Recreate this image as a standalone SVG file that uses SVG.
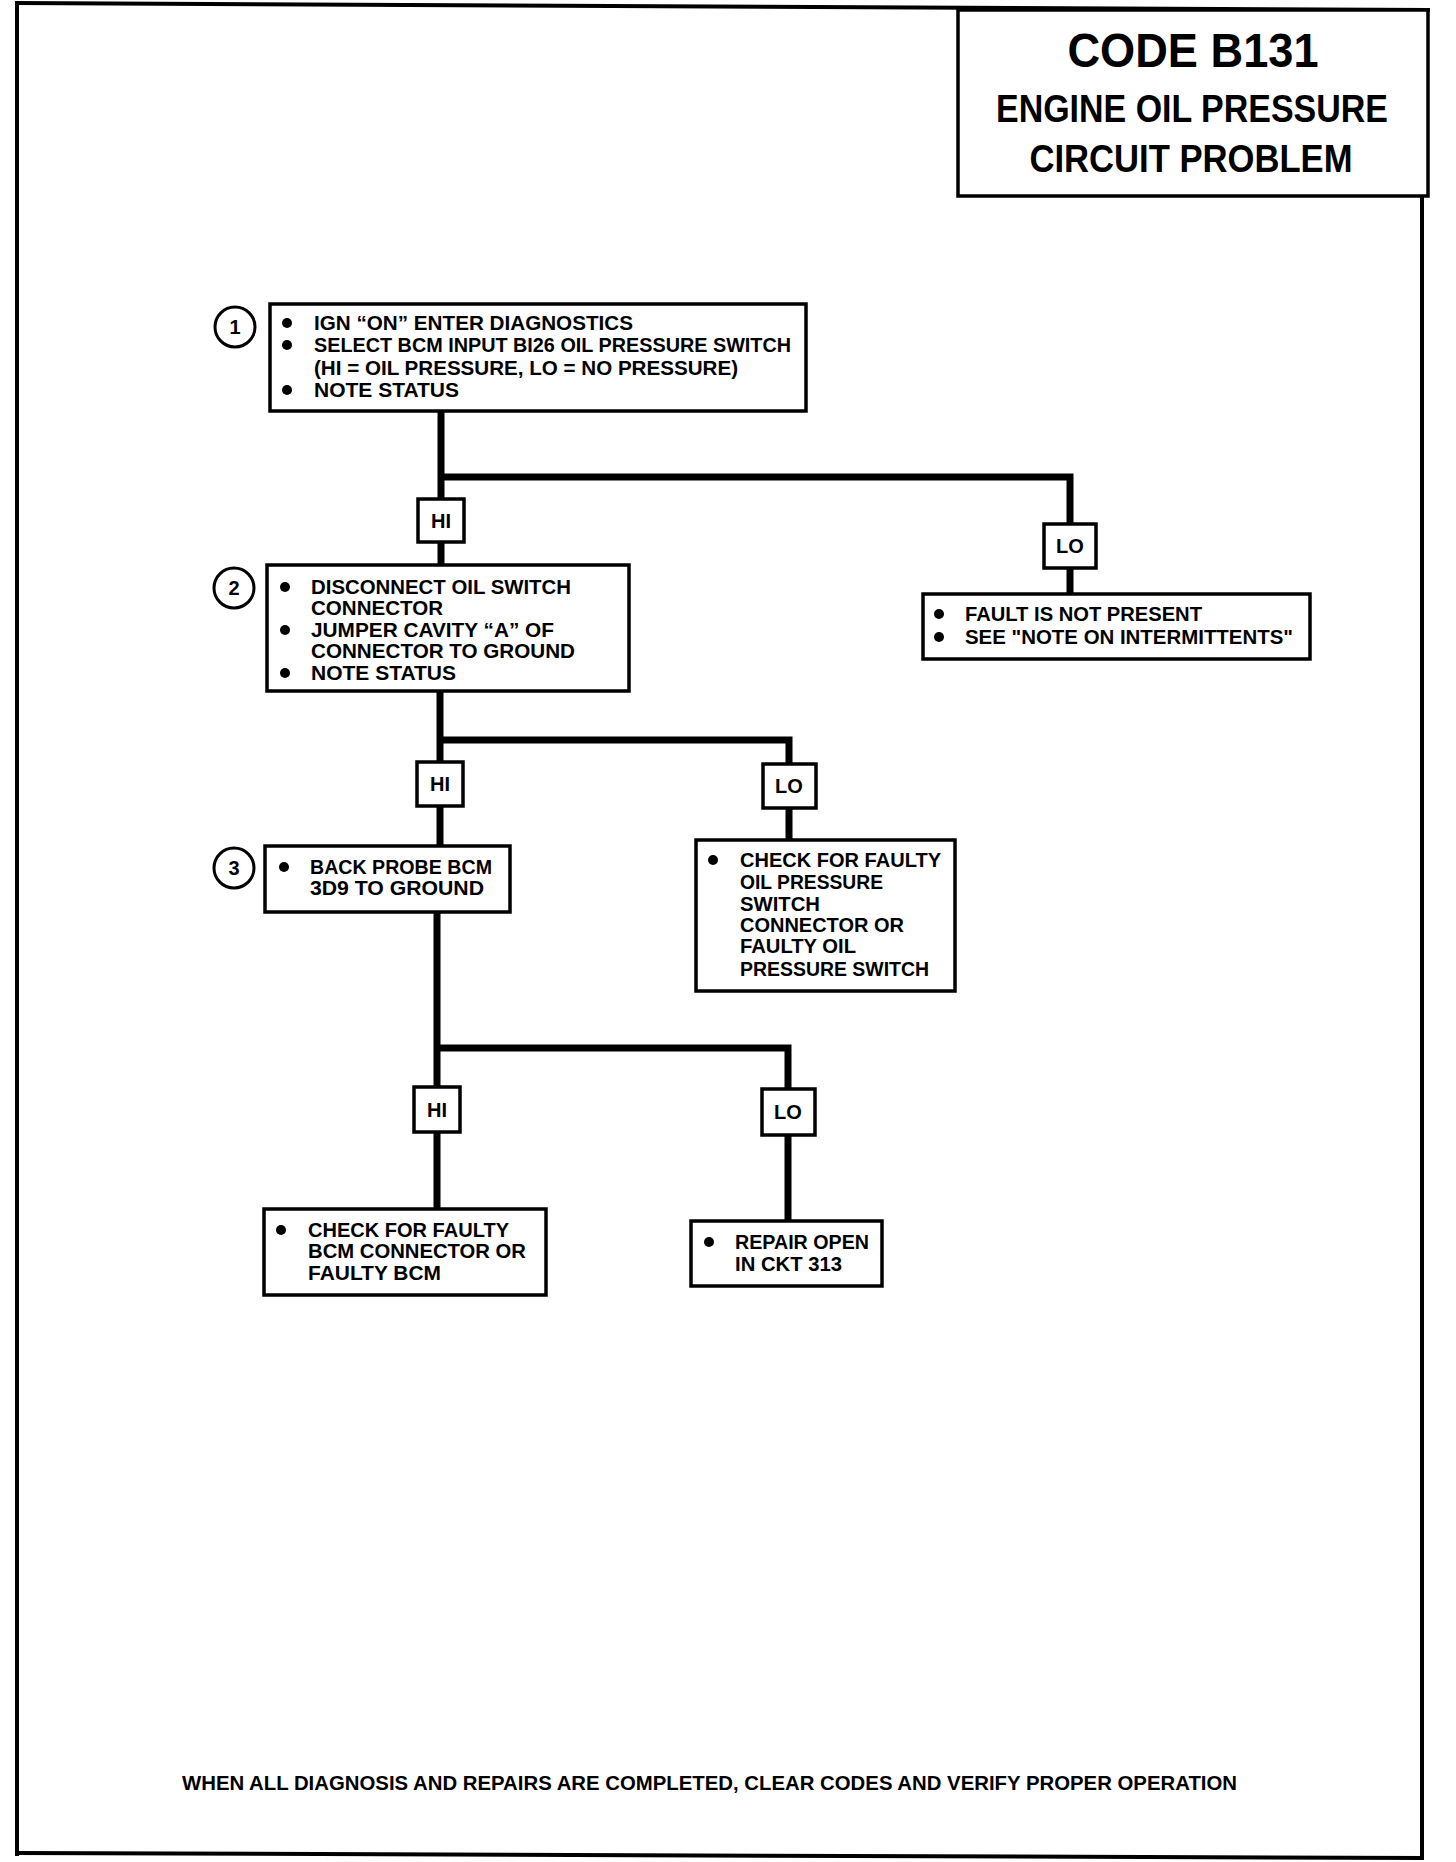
<svg xmlns="http://www.w3.org/2000/svg" width="1456" height="1862" viewBox="0 0 1456 1862">
<style>
.box{fill:#fff;stroke:#000;stroke-width:3.5}
.tag{fill:#fff;stroke:#000;stroke-width:3.5}
.t{font-family:"Liberation Sans",Arial,sans-serif;font-weight:bold;font-size:21px;fill:#000}
.tl{font-family:"Liberation Sans",Arial,sans-serif;font-weight:bold;font-size:20px;fill:#000;text-anchor:middle}
.num{font-family:"Liberation Sans",Arial,sans-serif;font-weight:bold;font-size:20px;fill:#000;text-anchor:middle}
.title{font-family:"Liberation Sans",Arial,sans-serif;font-weight:bold;fill:#000;text-anchor:middle}
.conn{fill:none;stroke:#000;stroke-width:7}
.frame{fill:none;stroke:#000;stroke-width:4}
.circ{fill:#fff;stroke:#000;stroke-width:3}
</style>
<rect width="1456" height="1862" fill="#fff"/>
<g id="frame">
<line class="frame" x1="17" y1="3" x2="17" y2="1856"/>
<line class="frame" x1="15" y1="3" x2="1430" y2="10"/>
<line class="frame" x1="1422" y1="196" x2="1422" y2="1858"/>
<line class="frame" x1="15" y1="1853" x2="1424" y2="1858"/>
</g>
<g id="title">
<rect x="958" y="10" width="470" height="186" fill="#fff" stroke="#000" stroke-width="3.5"/>
<text class="title" x="1193" y="67" font-size="48" textLength="251" lengthAdjust="spacingAndGlyphs">CODE B131</text>
<text class="title" x="1192" y="122" font-size="39" textLength="392" lengthAdjust="spacingAndGlyphs">ENGINE OIL PRESSURE</text>
<text class="title" x="1191" y="172" font-size="39" textLength="323" lengthAdjust="spacingAndGlyphs">CIRCUIT PROBLEM</text>
</g>
<g id="connectors">
<polyline class="conn" points="441,411 441,565"/>
<polyline class="conn" points="441,477 1070,477 1070,594"/>
<polyline class="conn" points="440,691 440,846"/>
<polyline class="conn" points="440,740 789,740 789,840"/>
<polyline class="conn" points="437,912 437,1209"/>
<polyline class="conn" points="437,1048 788,1048 788,1221"/>
</g>
<g id="step1">
<circle class="circ" cx="235" cy="327" r="20"/>
<text class="num" x="235" y="334">1</text>
<rect class="box" x="270" y="304" width="536" height="107"/>
<circle cx="287" cy="323" r="5"/>
<circle cx="287" cy="345" r="5"/>
<circle cx="287" cy="390" r="5"/>
<text class="t" x="314" y="330" textLength="319" lengthAdjust="spacingAndGlyphs">IGN “ON” ENTER DIAGNOSTICS</text>
<text class="t" x="314" y="352" textLength="477" lengthAdjust="spacingAndGlyphs">SELECT BCM INPUT BI26 OIL PRESSURE SWITCH</text>
<text class="t" x="314" y="375" textLength="424" lengthAdjust="spacingAndGlyphs">(HI = OIL PRESSURE, LO = NO PRESSURE)</text>
<text class="t" x="314" y="397" textLength="145" lengthAdjust="spacingAndGlyphs">NOTE STATUS</text>
</g>
<g id="hi1">
<rect class="tag" x="418" y="499" width="46" height="43"/>
<text class="tl" x="441" y="528">HI</text>
</g>
<g id="lo1">
<rect class="tag" x="1044" y="524" width="52" height="44"/>
<text class="tl" x="1070" y="553">LO</text>
</g>
<g id="result1">
<rect class="box" x="923" y="594" width="387" height="65"/>
<circle cx="939" cy="614" r="5"/>
<circle cx="939" cy="637" r="5"/>
<text class="t" x="965" y="621" textLength="237" lengthAdjust="spacingAndGlyphs">FAULT IS NOT PRESENT</text>
<text class="t" x="965" y="644" textLength="328" lengthAdjust="spacingAndGlyphs">SEE "NOTE ON INTERMITTENTS"</text>
</g>
<g id="step2">
<circle class="circ" cx="234" cy="588" r="20"/>
<text class="num" x="234" y="595">2</text>
<rect class="box" x="267" y="565" width="362" height="126"/>
<circle cx="285" cy="587" r="5"/>
<circle cx="285" cy="630" r="5"/>
<circle cx="285" cy="673" r="5"/>
<text class="t" x="311" y="594" textLength="260" lengthAdjust="spacingAndGlyphs">DISCONNECT OIL SWITCH</text>
<text class="t" x="311" y="615" textLength="132" lengthAdjust="spacingAndGlyphs">CONNECTOR</text>
<text class="t" x="311" y="637" textLength="243" lengthAdjust="spacingAndGlyphs">JUMPER CAVITY “A” OF</text>
<text class="t" x="311" y="658" textLength="264" lengthAdjust="spacingAndGlyphs">CONNECTOR TO GROUND</text>
<text class="t" x="311" y="680" textLength="145" lengthAdjust="spacingAndGlyphs">NOTE STATUS</text>
</g>
<g id="hi2">
<rect class="tag" x="417" y="762" width="46" height="44"/>
<text class="tl" x="440" y="791">HI</text>
</g>
<g id="lo2">
<rect class="tag" x="763" y="764" width="53" height="44"/>
<text class="tl" x="789" y="793">LO</text>
</g>
<g id="result2">
<rect class="box" x="696" y="840" width="259" height="151"/>
<circle cx="713" cy="860" r="5"/>
<text class="t" x="740" y="867" textLength="201" lengthAdjust="spacingAndGlyphs">CHECK FOR FAULTY</text>
<text class="t" x="740" y="889" textLength="143" lengthAdjust="spacingAndGlyphs">OIL PRESSURE</text>
<text class="t" x="740" y="911" textLength="80" lengthAdjust="spacingAndGlyphs">SWITCH</text>
<text class="t" x="740" y="932" textLength="164" lengthAdjust="spacingAndGlyphs">CONNECTOR OR</text>
<text class="t" x="740" y="953" textLength="116" lengthAdjust="spacingAndGlyphs">FAULTY OIL</text>
<text class="t" x="740" y="976" textLength="189" lengthAdjust="spacingAndGlyphs">PRESSURE SWITCH</text>
</g>
<g id="step3">
<circle class="circ" cx="234" cy="868" r="20"/>
<text class="num" x="234" y="875">3</text>
<rect class="box" x="265" y="846" width="245" height="66"/>
<circle cx="284" cy="867" r="5"/>
<text class="t" x="310" y="874" textLength="182" lengthAdjust="spacingAndGlyphs">BACK PROBE BCM</text>
<text class="t" x="310" y="895" textLength="174" lengthAdjust="spacingAndGlyphs">3D9 TO GROUND</text>
</g>
<g id="hi3">
<rect class="tag" x="414" y="1087" width="46" height="45"/>
<text class="tl" x="437" y="1117">HI</text>
</g>
<g id="lo3">
<rect class="tag" x="762" y="1089" width="53" height="46"/>
<text class="tl" x="788" y="1119">LO</text>
</g>
<g id="result3">
<rect class="box" x="264" y="1209" width="282" height="86"/>
<circle cx="281" cy="1230" r="5"/>
<text class="t" x="308" y="1237" textLength="201" lengthAdjust="spacingAndGlyphs">CHECK FOR FAULTY</text>
<text class="t" x="308" y="1258" textLength="218" lengthAdjust="spacingAndGlyphs">BCM CONNECTOR OR</text>
<text class="t" x="308" y="1280" textLength="133" lengthAdjust="spacingAndGlyphs">FAULTY BCM</text>
</g>
<g id="result4">
<rect class="box" x="691" y="1221" width="191" height="65"/>
<circle cx="709" cy="1242" r="5"/>
<text class="t" x="735" y="1249" textLength="134" lengthAdjust="spacingAndGlyphs">REPAIR OPEN</text>
<text class="t" x="735" y="1271" textLength="107" lengthAdjust="spacingAndGlyphs">IN CKT 313</text>
</g>
<g id="footer">
<text class="t" x="182" y="1790" font-size="19" textLength="1055" lengthAdjust="spacingAndGlyphs">WHEN ALL DIAGNOSIS AND REPAIRS ARE COMPLETED, CLEAR CODES AND  VERIFY PROPER OPERATION</text>
</g>
</svg>
